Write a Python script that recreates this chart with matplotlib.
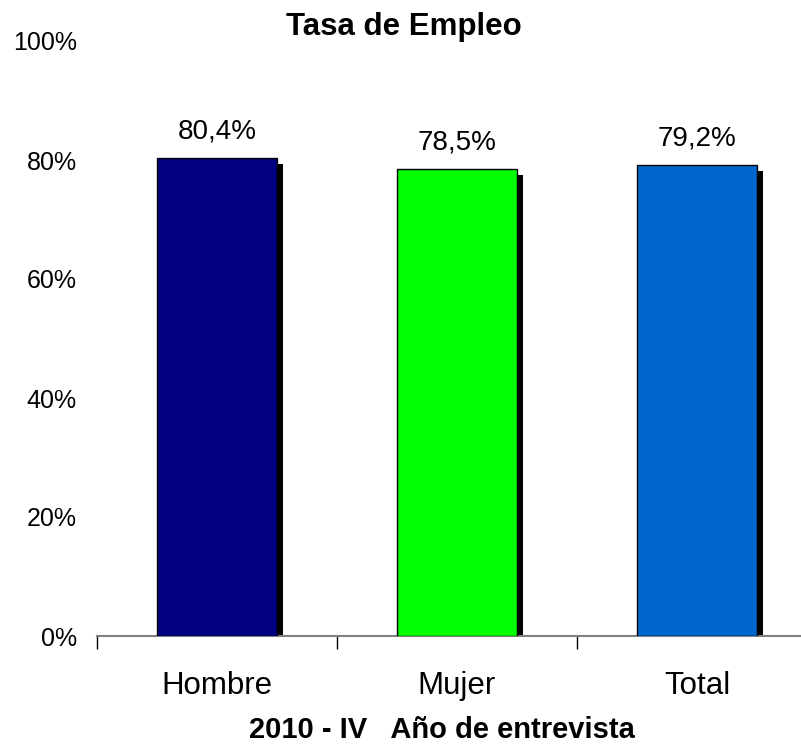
import matplotlib
matplotlib.use("Agg")
import matplotlib.pyplot as plt
from matplotlib.ticker import FixedLocator, NullFormatter

plt.rcParams['font.family'] = ['Liberation Sans', 'DejaVu Sans']

categories = ["Hombre", "Mujer", "Total"]
values = [0.804, 0.785, 0.792]
colors = ["#000080", "#00FF00", "#0066CC"]
yticks = [0, 0.2, 0.4, 0.6, 0.8, 1.0]
ytick_labels = ["0%", "20%", "40%", "60%", "80%", "100%"]
title = "Tasa de Empleo"
xlabel = "2010 - IV   Año de entrevista"

W, H = 801, 751
fig = plt.figure(figsize=(W / 100, H / 100), dpi=100)
left, right, bottom, top = 97, 817, 636, 41
ax = fig.add_axes([left / W, (H - bottom) / H, (right - left) / W, (bottom - top) / H])

x = list(range(len(categories)))
bw = 0.5
dx = 6 / 240
dy = 6 / 595
# shadows
ax.bar([xi + dx for xi in x], [v - dy for v in values], width=bw, color="black", zorder=2)
# bars
ax.bar(x, values, width=bw, color=colors, edgecolor="black", linewidth=1, zorder=3)

for xi, v in zip(x, values):
    ax.text(xi, v + 0.022, f"{v*100:.1f}%".replace(".", ","), ha="center", va="bottom",
            fontsize=20)

ax.set_xlim(-0.5, 2.5)
ax.set_ylim(0, 1.0)
ax.set_yticks(yticks)
ax.set_yticklabels(ytick_labels, fontsize=18)
ax.tick_params(axis="y", length=0, pad=14.5)

ax.set_xticks(x)
ax.set_xticklabels(categories, fontsize=22.5)
ax.tick_params(axis="x", which="major", length=0, pad=25)
ax.xaxis.set_minor_locator(FixedLocator([-0.5, 0.5, 1.5, 2.5]))
ax.xaxis.set_minor_formatter(NullFormatter())
ax.tick_params(axis="x", which="minor", length=9, width=1, color="black", direction="out")

for s in ["top", "right", "left"]:
    ax.spines[s].set_visible(False)
ax.spines["bottom"].set_color("#808080")
ax.spines["bottom"].set_linewidth(1.5)
ax.patch.set_visible(False)

fig.text(404 / W, 1 - 27 / H, title, ha="center", va="center", fontsize=22.5, fontweight="bold")
fig.text(442 / W, 1 - 730 / H, xlabel, ha="center", va="center", fontsize=21, fontweight="bold")

fig.savefig("out.png", dpi=100)
